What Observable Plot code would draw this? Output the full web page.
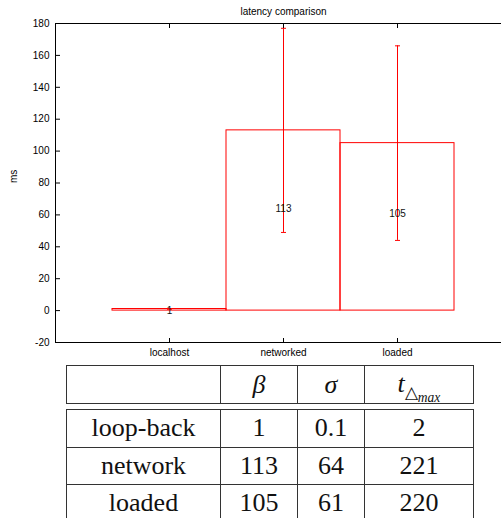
<!DOCTYPE html>
<html><head><meta charset="utf-8">
<script src="https://cdn.jsdelivr.net/npm/d3@7"></script>
<script src="https://cdn.jsdelivr.net/npm/@observablehq/plot@0.6"></script>
<style>
html,body{margin:0;padding:0;background:#fff;overflow:hidden;width:501px;height:518px;position:relative}
#chart svg{display:block}
.tbl{border-collapse:collapse;font-size:26px;color:#111;position:absolute;left:66px;table-layout:fixed}
.tbl td{border:1.4px solid #333;text-align:center;padding:0;line-height:1}
html body #tables, html body #tables table, html body #tables td, html body #tables i, html body #tables sub{font-family:'Liberation Serif','Times New Roman',Times,serif !important}
#head{top:365px}
#head td{height:37px}
#body{top:409px}
#body td{height:36.5px}
sub{font-size:65%;vertical-align:-0.3em;line-height:0}
sub sub{font-size:80%}
</style></head><body>
<div id="chart"></div>
<div id="tables"></div>
<script>
// chart data
const categories = ["localhost", "networked", "loaded"];
const beta = [1, 113, 105];
const sigma = [0.1, 64, 61];
const yTicks = [-20, 0, 20, 40, 60, 80, 100, 120, 140, 160, 180];
const xTicks = [0, 1, 2];

// table data
const rowNames = ["loop-back", "network", "loaded"];
const tableBeta = ["1", "113", "105"];
const tableSigma = ["0.1", "64", "61"];
const tableTmax = ["2", "221", "220"];

const data = categories.map((c, i) => ({i, c, beta: beta[i], sigma: sigma[i]}));
const caps = data.flatMap(d => [{i: d.i, y: d.beta - d.sigma}, {i: d.i, y: d.beta + d.sigma}]);
const capSymbol = {draw(ctx, size) { const r = Math.sqrt(size / Math.PI); ctx.moveTo(-r, 0); ctx.lineTo(r, 0); }};

const chart = Plot.plot({
  width: 501, height: 360,
  marginLeft: 55, marginRight: -10, marginTop: 23, marginBottom: 18,
  style: {fontFamily: "'Liberation Sans', Arial, sans-serif", fontSize: "10px", color: "#000", background: "#fff"},
  x: {domain: [-1, 3]},
  y: {domain: [-20, 180]},
  marks: [
    Plot.rect(data, {x1: d => d.i - 0.5, x2: d => d.i + 0.5, y1: d => 0, y2: "beta", fill: "none", stroke: "#ff0000", strokeWidth: 1}),
    Plot.ruleX(data, {x: "i", y1: d => d.beta - d.sigma, y2: d => d.beta + d.sigma, stroke: "#ff0000", strokeWidth: 1}),
    Plot.dot(caps, {x: "i", y: "y", symbol: capSymbol, r: 2.5, stroke: "#ff0000", fill: "none", strokeWidth: 1}),
    Plot.text(data, {x: "i", y: "sigma", text: d => String(d.beta), fill: "#111", fontSize: 10}),
    Plot.frame({stroke: "#000"}),
    Plot.axisY(yTicks, {anchor: "left", tickSize: -5, tickPadding: 11, tickFormat: d => String(d), label: null, fontSize: 10}),
    Plot.axisX(xTicks, {anchor: "bottom", tickSize: -4, tickPadding: 10, tickFormat: i => categories[i], label: null, fontSize: 10}),
    Plot.axisX(xTicks, {anchor: "top", tickSize: -4, tickFormat: () => "", label: null}),
    Plot.text(["latency comparison"], {frameAnchor: "top", dy: -16, fontSize: 10}),
    Plot.text(["ms"], {frameAnchor: "left", dx: -42, rotate: -90, fontSize: 10})
  ]
});
document.getElementById("chart").append(chart);

// tables
const widths = [154, 77, 67, 109];
function colgroup() { return "<colgroup>" + widths.map(w => `<col style="width:${w}px">`).join("") + "</colgroup>"; }
const headCells = ["", "<i>β</i>", "<i>σ</i>", "<i>t</i><sub>△<sub><i>max</i></sub></sub>"];
document.getElementById("tables").innerHTML =
  `<table id="head" class="tbl">` + colgroup() + "<tr>" + headCells.map(h => `<td>${h}</td>`).join("") + "</tr></table>" +
  `<table id="body" class="tbl">` + colgroup() + rowNames.map((n, k) =>
    "<tr>" + [n, tableBeta[k], tableSigma[k], tableTmax[k]].map(h => `<td>${h}</td>`).join("") + "</tr>").join("") + "</table>";
document.querySelectorAll("#tables *").forEach(el => el.style.setProperty("font-family", "'Liberation Serif', 'Times New Roman', serif", "important"));
</script>
</body></html>
